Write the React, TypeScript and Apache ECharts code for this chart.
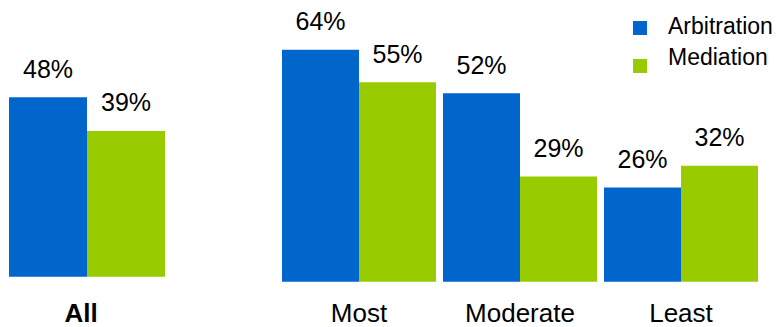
import React, { useEffect, useRef } from "react";
import * as echarts from "echarts";

const allCategory = ["All"];
const groupCategories = ["Most", "Moderate", "Least"];
const seriesNames = ["Arbitration", "Mediation"];
const arbitrationAll = [48];
const mediationAll = [39];
const arbitration = [64, 52, 26];
const mediation = [55, 29, 32];

const BLUE = "#0066CC";
const GREEN = "#99CC00";
const FONT = "'Liberation Sans', Arial, sans-serif";

export default function App() {
  const ref = useRef<HTMLDivElement>(null);
  useEffect(() => {
    if (!ref.current) return;
    const chart = echarts.init(ref.current, null, { renderer: "svg" });
    const label = {
      show: true,
      position: "top" as const,
      distance: 16,
      formatter: "{c}%",
      fontSize: 25,
      color: "#000",
      fontFamily: FONT,
    };
    chart.setOption({
      animation: false,
      textStyle: { fontFamily: FONT },
      graphic: [
        { type: "rect", left: 633, top: 21, shape: { width: 14, height: 14 }, style: { fill: BLUE } },
        {
          type: "text",
          x: 668,
          y: 26,
          style: {
            text: seriesNames[0],
            fontSize: 23,
            fontFamily: FONT,
            fill: "#000",
            verticalAlign: "middle",
            align: "left",
          },
        },
        { type: "rect", left: 633, top: 59, shape: { width: 14, height: 14 }, style: { fill: GREEN } },
        {
          type: "text",
          x: 668,
          y: 57,
          style: {
            text: seriesNames[1],
            fontSize: 23,
            fontFamily: FONT,
            fill: "#000",
            verticalAlign: "middle",
            align: "left",
          },
        },
      ],
      grid: [
        { left: 9, width: 156, top: 15, height: 261.7 },
        { left: 278.5, width: 483, top: 28, height: 253.7 },
      ],
      xAxis: [
        {
          gridIndex: 0,
          type: "category",
          data: allCategory,
          axisLine: { show: false },
          axisTick: { show: false },
          axisLabel: {
            fontSize: 26,
            fontWeight: "bold",
            color: "#000",
            margin: 23,
            padding: [0, 12, 0, 0],
          },
        },
        {
          gridIndex: 1,
          type: "category",
          data: groupCategories,
          axisLine: { show: false },
          axisTick: { show: false },
          axisLabel: { fontSize: 26, color: "#000", margin: 18 },
        },
      ],
      yAxis: [
        { gridIndex: 0, type: "value", min: 0, max: 70, show: false, splitLine: { show: false } },
        { gridIndex: 1, type: "value", min: 0, max: 70, show: false, splitLine: { show: false } },
      ],
      series: [
        {
          name: seriesNames[0],
          type: "bar",
          xAxisIndex: 0,
          yAxisIndex: 0,
          data: arbitrationAll,
          barWidth: 78,
          barGap: "0%",
          itemStyle: { color: BLUE },
          label,
        },
        {
          name: seriesNames[1],
          type: "bar",
          xAxisIndex: 0,
          yAxisIndex: 0,
          data: mediationAll,
          barWidth: 78,
          barGap: "0%",
          itemStyle: { color: GREEN },
          label,
        },
        {
          name: seriesNames[0],
          type: "bar",
          xAxisIndex: 1,
          yAxisIndex: 1,
          data: arbitration,
          barWidth: 77,
          barGap: "0%",
          itemStyle: { color: BLUE },
          label,
        },
        {
          name: seriesNames[1],
          type: "bar",
          xAxisIndex: 1,
          yAxisIndex: 1,
          data: mediation,
          barWidth: 77,
          barGap: "0%",
          itemStyle: { color: GREEN },
          label,
        },
      ],
    });
    return () => chart.dispose();
  }, []);
  return (
    <div
      ref={ref}
      style={{ position: "fixed", left: 0, top: 0, width: 777, height: 327, background: "#fff" }}
    />
  );
}
